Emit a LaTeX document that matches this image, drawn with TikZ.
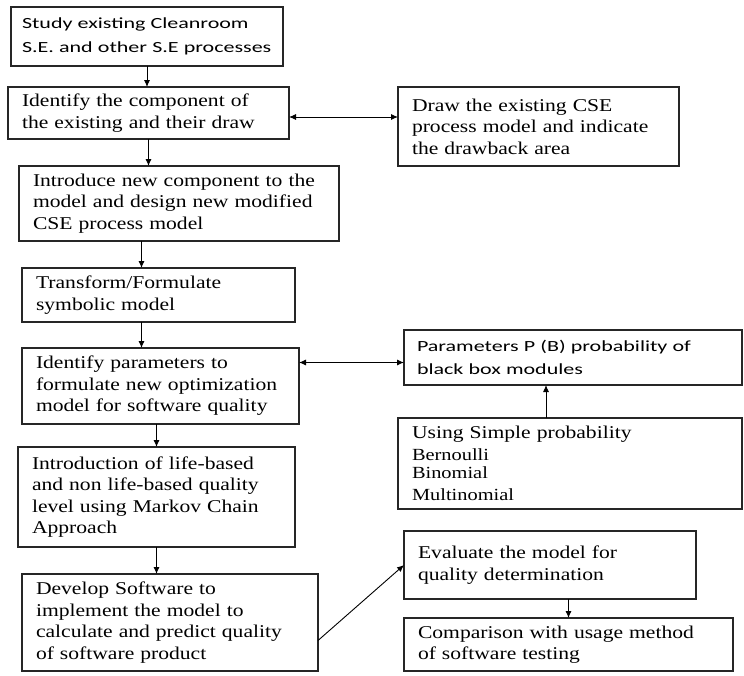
\documentclass[tikz,border=0pt]{standalone}
\usepackage{fontspec}
\setmainfont{Liberation Serif}[FakeStretch=1.2]
\newfontfamily\calibri{Carlito}[FakeStretch=1.42]
\usetikzlibrary{arrows.meta,positioning}

\begin{document}
\begin{tikzpicture}[x=1pt,y=1pt,
  box/.style={draw=black!85,line width=1.1pt,outer sep=0pt,align=left,inner xsep=14pt,
    font=\fontsize{18}{21.5}\selectfont},
  sbox/.style={box,font=\calibri\fontsize{15.5}{23.5}\selectfont},
  arr/.style={-{Latex[length=7pt,width=6pt]},line width=0.9pt},
  darr/.style={{Latex[length=7pt,width=6pt]}-{Latex[length=7pt,width=6pt]},line width=0.9pt}
]
  \useasboundingbox (0,0) rectangle (744,-675);

  \node[sbox,anchor=north west,inner xsep=11pt,text width=250pt,minimum height=59pt] (study) at (11,-7)
    {Study existing Cleanroom\\S.E. and other S.E processes};
  \node[box,below right=21pt and -3pt of study.south west,text width=253pt,minimum height=52pt] (ident)
    {Identify the component of\\the existing and their draw};
  \node[box,below right=27pt and 11pt of ident.south west,text width=292pt,minimum height=75pt] (intro)
    {Introduce new component to the\\model and design new modified\\CSE process model};
  \node[box,below right=27pt and 3pt of intro.south west,text width=245pt,minimum height=54pt] (trans)
    {Transform/Formulate\\symbolic model};
  \node[box,below right=26pt and 0pt of trans.south west,text width=249pt,minimum height=76pt] (param)
    {Identify parameters to\\formulate new optimization\\model for software quality};
  \node[box,below right=23pt and -4pt of param.south west,text width=249pt,minimum height=100pt] (markov)
    {Introduction of life-based\\and non life-based quality\\level using Markov Chain\\Approach};
  \node[box,below right=27pt and 4pt of markov.south west,text width=268pt,minimum height=97pt] (develop)
    {Develop Software to\\implement the model to\\calculate and predict quality\\of software product};

  \node[box,below right=0pt and 109pt of ident.north east,text width=253pt,minimum height=79pt] (drawcse)
    {Draw the existing CSE\\process model and indicate\\the drawback area};
  \node[sbox,below right=164pt and 6pt of drawcse.south west,inner xsep=13pt,text width=312pt,minimum height=55pt] (pb)
    {Parameters P (B) probability of\\black box modules};
  \node[box,below right=33pt and -6pt of pb.south west,text width=316pt,minimum height=91pt] (simple)
    {Using Simple probability\\[3pt]\fontsize{17}{18.5}\selectfont Bernoulli\\Binomial\\Multinomial};
  \node[box,below right=22pt and 6pt of simple.south west,text width=264pt,minimum height=68pt] (evaluate)
    {Evaluate the model for\\quality determination};
  \node[box,below right=19pt and 0pt of evaluate.south west,text width=301pt,minimum height=53pt] (compare)
    {Comparison with usage method\\of software testing};

  \draw[arr] (study.south) -- (study.south |- ident.north);
  \draw[arr] (ident.south) -- (ident.south |- intro.north);
  \draw[arr] ([xshift=-17pt]trans.north |- intro.south) -- ([xshift=-17pt]trans.north);
  \draw[arr] ([xshift=-17pt]trans.south) -- ([xshift=-17pt]trans.south |- param.north);
  \draw[arr] (markov.north |- param.south) -- (markov.north);
  \draw[arr] (markov.south) -- (markov.south |- develop.north);
  \draw[darr] ([yshift=-4pt]ident.east) -- ([yshift=-4pt]ident.east -| drawcse.west);
  \draw[darr] ([yshift=-5pt]pb.west -| param.east) -- ([yshift=-5pt]pb.west);
  \draw[arr] ([xshift=-24pt]simple.north) -- ([xshift=-24pt]simple.north |- pb.south);
  \draw[arr] ([yshift=-18pt]develop.east) -- (evaluate.west);
  \draw[arr] (compare.north |- evaluate.south) -- (compare.north);
\end{tikzpicture}
\end{document}
